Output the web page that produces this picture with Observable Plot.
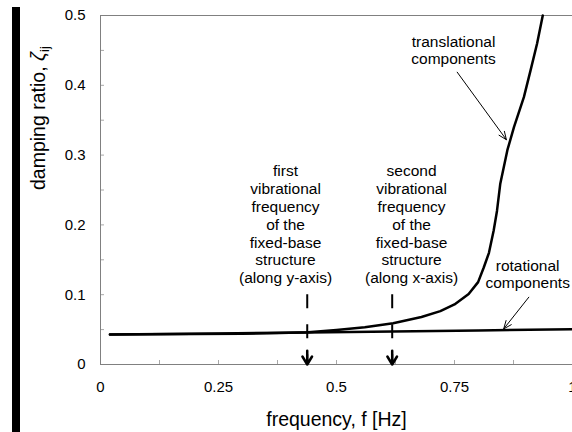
<!DOCTYPE html>
<html>
<head>
<meta charset="utf-8">
<script src="https://cdn.jsdelivr.net/npm/d3@7"></script>
<script src="https://cdn.jsdelivr.net/npm/@observablehq/plot@0.6"></script>
<style>
  html, body { margin: 0; padding: 0; background: #fff; }
  #wrap { position: relative; width: 572px; height: 432px; overflow: hidden; font-family: "Liberation Sans", Arial, sans-serif; }
  #bar { position: absolute; left: 12px; top: 7px; width: 8px; height: 425px; background: #000; }
  #wrap svg { position: absolute; left: 0; top: 0; }
</style>
</head>
<body>
<div id="wrap"><div id="bar"></div></div>
<script>
// Translational components
const transFreq = [0.02, 0.10, 0.20, 0.30, 0.38, 0.44, 0.50, 0.56, 0.62, 0.68, 0.72, 0.75, 0.78, 0.80, 0.812, 0.823, 0.833, 0.840, 0.847, 0.862, 0.876, 0.897, 0.911, 0.925, 0.937];
const transDamping = [0.043, 0.0432, 0.0436, 0.0442, 0.0450, 0.0462, 0.0495, 0.0535, 0.0590, 0.0680, 0.0765, 0.0860, 0.1010, 0.118, 0.139, 0.160, 0.192, 0.220, 0.259, 0.307, 0.340, 0.383, 0.421, 0.460, 0.500];
// Rotational components
const rotFreq = [0.02, 0.25, 0.44, 0.62, 0.80, 1.00];
const rotDamping = [0.043, 0.0445, 0.0460, 0.0472, 0.0487, 0.0505];
// Marked vibrational frequencies of the fixed-base structure
const markFreq = [0.438, 0.618];
const markLabels = ["first\nvibrational\nfrequency\nof the\nfixed-base\nstructure\n(along y-axis)",
                    "second\nvibrational\nfrequency\nof the\nfixed-base\nstructure\n(along x-axis)"];
const markLabelFreq = [0.392, 0.659];
const markLabelDamping = [0.2013, 0.2013];
const markTop = 0.1;
// Curve labels and pointer arrows
const curveLabels = ["translational\ncomponents", "rotational\ncomponents"];
const curveLabelFreq = [0.748, 0.905];
const curveLabelDamping = [0.4506, 0.130];
const pointerFrom = [[0.7557, 0.4188], [0.9074, 0.0964]];
const pointerTo = [[0.860, 0.322], [0.8542, 0.051]];
// Axes
const xTicks = [0, 0.25, 0.5, 0.75, 1];
const xTickLabels = ["0", "0.25", "0.5", "0.75", "1"];
const xMinorTicks = [0.125, 0.25, 0.375, 0.5, 0.625, 0.75, 0.875];
const yTicks = [0, 0.1, 0.2, 0.3, 0.4, 0.5];
const yTickLabels = ["0", "0.1", "0.2", "0.3", "0.4", "0.5"];
const yMinorTicks = [0.05, 0.1, 0.15, 0.2, 0.25, 0.3, 0.35, 0.4, 0.45];
const xTitle = "frequency, f [Hz]";
const yTitle = "damping ratio, ζ";
const yTitleSub = "ij";

const trans = transFreq.map((f, i) => ({f, d: transDamping[i]}));
const rot = rotFreq.map((f, i) => ({f, d: rotDamping[i]}));
const markText = markFreq.map((f, i) => ({f: markLabelFreq[i], d: markLabelDamping[i], t: markLabels[i]}));
const curveText = curveLabels.map((t, i) => ({t, f: curveLabelFreq[i], d: curveLabelDamping[i]}));
const pointers = pointerFrom.map((p, i) => ({x1: p[0], y1: p[1], x2: pointerTo[i][0], y2: pointerTo[i][1]}));

const W = 572, H = 432, ML = 100, MR = 0, MT = 15, MB = 68;
const axisGray = "#808080", tickGray = "#a8a8a8";

const plot = Plot.plot({
  width: W, height: H,
  marginLeft: ML, marginRight: MR, marginTop: MT, marginBottom: MB,
  style: {fontFamily: "'Liberation Sans', Arial, sans-serif", background: "transparent", overflow: "visible"},
  x: {domain: [0, 1]},
  y: {domain: [0, 0.5]},
  marks: [
    Plot.tickY(yMinorTicks, {y: d => d, stroke: tickGray, insetRight: W - ML - MR - 4}),
    Plot.tickX(xMinorTicks, {x: d => d, stroke: tickGray, insetTop: H - MT - MB - 4}),
    Plot.ruleX([0], {stroke: axisGray}),
    Plot.ruleY([0, 0.5], {stroke: axisGray}),
    Plot.axisX({ticks: xTicks, tickFormat: (d) => xTickLabels[xTicks.indexOf(d)], tickSize: 0, tickPadding: 17, fontSize: 15, label: null, color: "#000"}),
    Plot.axisY({ticks: yTicks, tickFormat: (d) => yTickLabels[yTicks.indexOf(d)], tickSize: 0, tickPadding: 15, fontSize: 15, label: null, color: "#000"}),
    Plot.line(rot, {x: "f", y: "d", stroke: "#000", strokeWidth: 2.5}),
    Plot.line(trans, {x: "f", y: "d", stroke: "#000", strokeWidth: 2.5}),
    Plot.ruleX(markFreq, {x: d => d, y1: markTop, y2: 0, stroke: "#000", strokeWidth: 2, strokeDasharray: "14,16"}),
    Plot.arrow(markFreq, {x1: d => d, x2: d => d, y1: markTop, y2: 0, insetStart: 56, stroke: "#000", strokeWidth: 2.5, headLength: 5.6, headAngle: 62}),
    Plot.text(markText, {x: "f", y: "d", text: "t", fontSize: 15.5, lineHeight: 1.15, fill: "#000", lineAnchor: "middle"}),
    Plot.text(curveText, {x: "f", y: "d", text: "t", fontSize: 15.5, lineHeight: 1.1, fill: "#000", lineAnchor: "middle"}),
    Plot.arrow(pointers, {x1: "x1", y1: "y1", x2: "x2", y2: "y2", stroke: "#000", strokeWidth: 1, headLength: 13, headAngle: 45}),
    Plot.text([xTitle], {frameAnchor: "bottom", dy: 55, text: d => d, fontSize: 19.5, fill: "#000", lineAnchor: "middle"}),
    Plot.text([yTitle], {frameAnchor: "left", dx: -62, rotate: -90, text: d => d, fontSize: 19.5, fill: "#000", lineAnchor: "middle"})
  ]
});

document.getElementById("wrap").appendChild(plot);

// italic zeta + subscript in the y title
d3.select(plot).selectAll("text").filter(function() { return this.textContent === yTitle; }).each(function() {
  const t = d3.select(this);
  t.text(null);
  t.append("tspan").text("damping ratio, ");
  t.append("tspan").attr("font-style", "italic").text("ζ");
  t.append("tspan").attr("font-size", "13px").attr("dy", "0.35em").text(yTitleSub);
});
</script>
</body>
</html>
